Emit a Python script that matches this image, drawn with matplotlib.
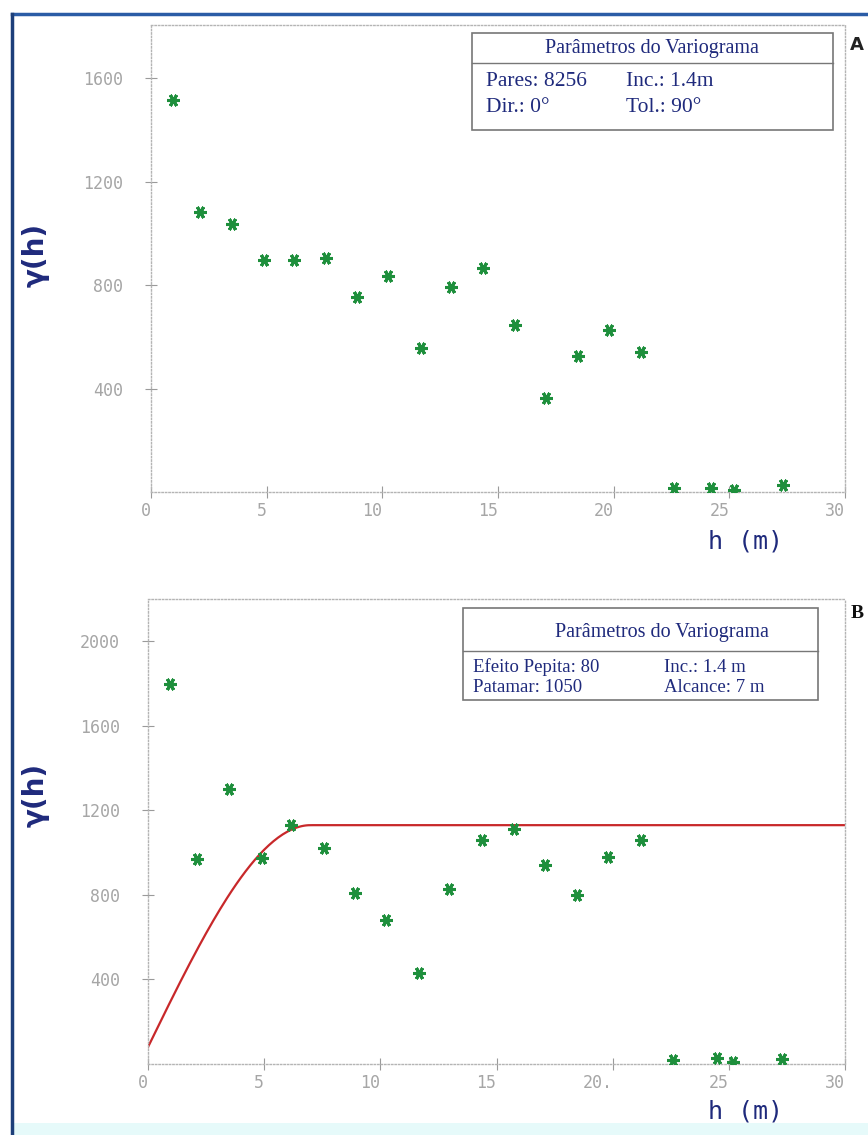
import numpy as np
import matplotlib.pyplot as plt
from matplotlib.patches import Rectangle
from matplotlib.lines import Line2D

# variograma experimental A (omnidirecional)
lag_a = [0.94, 2.12, 3.5, 4.9, 6.17, 7.57, 8.91, 10.26, 11.66, 12.96, 14.36,
         15.75, 17.08, 18.45, 19.78, 21.2, 22.6, 24.2, 25.2, 27.3]
gam_a = [1515, 1083, 1035, 896, 896, 903, 752, 835, 555, 793, 864,
         645, 362, 527, 626, 540, 15, 15, 8, 27]

# variograma experimental B + modelo esferico
lag_b = [0.94, 2.12, 3.5, 4.9, 6.17, 7.57, 8.91, 10.26, 11.66, 12.96, 14.36,
         15.75, 17.08, 18.45, 19.78, 21.2, 22.6, 24.5, 25.2, 27.3]
gam_b = [1800, 970, 1300, 975, 1130, 1020, 810, 680, 430, 830, 1060,
         1110, 940, 800, 980, 1060, 20, 30, 10, 25]
pepita = 80
patamar = 1050
alcance = 7.0

xticks = [0, 5, 10, 15, 20, 25, 30]
xlabels_a = ['0', '5', '10', '15', '20', '25', '30']
xlabels_b = ['0', '5', '10', '15', '20.', '25', '30']
yticks_a = [400, 800, 1200, 1600]
yticks_b = [400, 800, 1200, 1600, 2000]

W, H = 868, 1135
navy = '#1f2a7c'
green = '#1e8f3c'
gray = '#a6a6a6'
mono = 'DejaVu Sans Mono'
serif = 'Liberation Serif'

fig = plt.figure(figsize=(W / 100, H / 100), dpi=100)
fig.patch.set_facecolor('white')


def fx(px):
    return px / W


def fy(py):
    return 1 - py / H


def panel(rect, lags, gams, ylim, yticks, xlabels):
    x0, y0, x1, y1 = rect
    ax = fig.add_axes([fx(x0), fy(y1), fx(x1) - fx(x0), fy(y0) - fy(y1)])
    ax.set_xlim(0, 30)
    ax.set_ylim(0, ylim)
    for s in ax.spines.values():
        s.set_linestyle((0, (1, 1.5)))
        s.set_color('#b4b4b4')
        s.set_linewidth(1)
    ax.set_xticks(xticks)
    ax.set_xticklabels(xlabels, ha='right')
    ax.set_yticks(yticks)
    ax.tick_params(axis='both', direction='inout', length=8, width=0.8,
                   color='#9a9a9a', labelcolor=gray, labelsize=12)
    ax.tick_params(axis='y', pad=16)
    ax.tick_params(axis='x', pad=3)
    for lab in ax.get_xticklabels() + ax.get_yticklabels():
        lab.set_family(mono)
    ax.plot(lags, gams, linestyle='none', marker=(6, 2, 90), markersize=9,
            markeredgewidth=2.2, color=green, zorder=3)
    return ax


ax_a = panel((151, 25, 845, 492), lag_a, gam_a, 1805, yticks_a, xlabels_a)
ax_b = panel((148, 599, 845, 1064), lag_b, gam_b, 2200, yticks_b, xlabels_b)

# modelo esferico ajustado
h = np.linspace(0, 30, 301)
r = np.minimum(h / alcance, 1.0)
model = pepita + patamar * (1.5 * r - 0.5 * r ** 3)
ax_b.plot(h, model, color='#c8282a', linewidth=1.6, zorder=2)

# rotulos dos eixos
for yc in (255, 795):
    fig.text(fx(36), fy(yc), 'γ(h)', rotation=90, ha='center', va='center',
             fontsize=20, color=navy, fontweight='bold')
for yc in (541, 1112):
    fig.text(fx(745), fy(yc), 'h (m)', ha='center', va='center',
             fontsize=18, color=navy, family=mono)


def caixa(x0, y0, x1, y1, ysep, xtit, ytit, rows, cols, size):
    fig.patches.append(Rectangle((fx(x0), fy(y1)), fx(x1) - fx(x0), fy(y0) - fy(y1),
                                 transform=fig.transFigure, fill=True,
                                 facecolor='white', edgecolor='#777777',
                                 linewidth=1.2, zorder=5))
    fig.lines.append(Line2D([fx(x0), fx(x1)], [fy(ysep), fy(ysep)],
                            transform=fig.transFigure, color='#777777',
                            linewidth=1.0, zorder=6))
    fig.text(fx(xtit), fy(ytit), 'Parâmetros do Variograma',
             ha='center', va='center', fontsize=14.5, color=navy, family=serif,
             zorder=7)
    for (yr, texts) in rows:
        for xc, t in zip(cols, texts):
            fig.text(fx(xc), fy(yr), t, ha='left', va='center', fontsize=size,
                     color=navy, family=serif, zorder=7)


caixa(472, 33, 833, 130, 63, 652, 48,
      [(82, ['Pares: 8256', 'Inc.: 1.4m']), (108, ['Dir.: 0°', 'Tol.: 90°'])],
      (486, 626), 15.5)
caixa(463, 608, 818, 700, 651, 662, 633,
      [(667, [f'Efeito Pepita: {pepita}', 'Inc.: 1.4 m']),
       (688, [f'Patamar: {patamar}', f'Alcance: {alcance:.0f} m'])],
      (473, 664), 13.5)

fig.text(fx(857), fy(45), 'A', ha='center', va='center', fontsize=13,
         fontweight='bold', color='#222222')
fig.text(fx(857), fy(613), 'B', ha='center', va='center', fontsize=14,
         fontweight='bold', color='#111111', family=serif)

# moldura azul e faixa clara inferior
fig.lines.append(Line2D([fx(12), 1.0], [fy(14), fy(14)], transform=fig.transFigure,
                        color='#2b5ca6', linewidth=2.5))
fig.lines.append(Line2D([fx(12), fx(12)], [fy(14), 0.0], transform=fig.transFigure,
                        color='#1d3f7a', linewidth=2.5))
fig.patches.append(Rectangle((fx(14), 0), 1 - fx(14), 12 / H,
                             transform=fig.transFigure, facecolor='#e6fafa',
                             edgecolor='none', zorder=0))

fig.savefig('out.png', dpi=100)
